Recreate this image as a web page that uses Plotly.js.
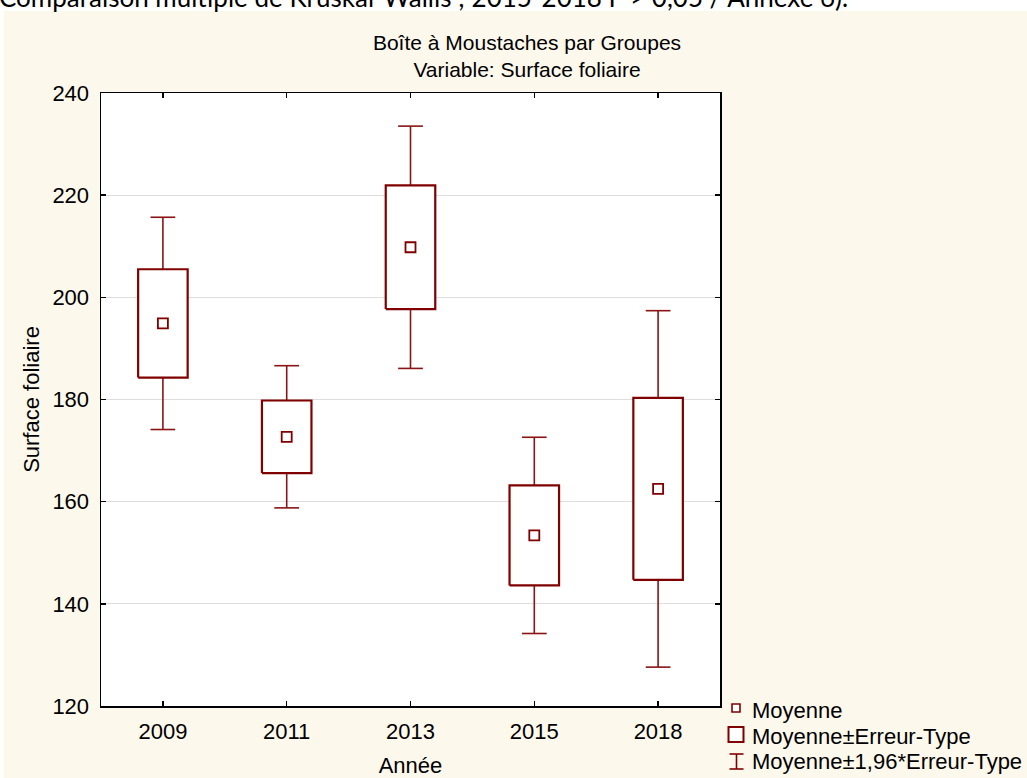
<!DOCTYPE html>
<html>
<head>
<meta charset="utf-8">
<script src="https://cdn.plot.ly/plotly-3.0.1.min.js"></script>
<style>
  html, body { margin: 0; padding: 0; background: #ffffff; overflow: hidden; }
  #chart { width: 1027px; height: 778px; }
</style>
</head>
<body>
<div id="chart"></div>
<script>
// Surface foliaire par année : moyenne, erreur-type
const annees = ['2009', '2011', '2013', '2015', '2018'];
const moyenne = [194.9, 172.7, 209.8, 153.4, 162.5];
const erreurType = [10.6, 7.1, 12.1, 9.8, 17.8];
const facteurIC = 1.96;
const yTicks = [120, 140, 160, 180, 200, 220, 240];
const legendeTextes = ['Moyenne', 'Moyenne±Erreur-Type', 'Moyenne±1,96*Erreur-Type'];

const rouge = '#800000';
const police = 'Liberation Sans, Arial, sans-serif';
const taille = 22;

// plot area in page pixels
const L = 101, R = 720, T = 93, B = 706;
const px = x => (x - L) / (R - L);
const py = y => (B - y) / (B - T);

const pos = annees.map((_, i) => i);
const demiBoite = 0.2, demiCap = 0.1;

const boxX = [], boxY = [], whX = [], whY = [];
pos.forEach(i => {
  const m = moyenne[i], se = erreurType[i];
  const lo = m - se, hi = m + se;
  const wlo = m - facteurIC * se, whi = m + facteurIC * se;
  boxX.push(i - demiBoite, i + demiBoite, i + demiBoite, i - demiBoite, i - demiBoite, null);
  boxY.push(lo, lo, hi, hi, lo, null);
  whX.push(i, i, null, i - demiCap, i + demiCap, null, i, i, null, i - demiCap, i + demiCap, null);
  whY.push(hi, whi, null, whi, whi, null, lo, wlo, null, wlo, wlo, null);
});

const traces = [
  { type: 'scatter', mode: 'lines', x: whX, y: whY, hoverinfo: 'skip',
    line: { color: '#8a1414', width: 1.6 }, showlegend: false },
  { type: 'scatter', mode: 'lines', x: boxX, y: boxY, fill: 'toself', fillcolor: '#ffffff',
    hoverinfo: 'skip', line: { color: rouge, width: 2.2 }, showlegend: false },
  { type: 'scatter', mode: 'markers', x: pos, y: moyenne, showlegend: false,
    marker: { symbol: 'square', size: 10, color: '#ffffff', line: { color: rouge, width: 1.8 } } }
];

const tickFont = { family: police, size: taille, color: '#000000' };

// legend drawn at the lower right
const legY = [709, 735, 760];
const shapes = [
  { type: 'rect', xref: 'paper', yref: 'paper', layer: 'below',
    x0: px(4), x1: px(1040), y0: py(790), y1: py(11),
    fillcolor: '#fdf8ec', line: { width: 0 } },
  { type: 'rect', xref: 'paper', yref: 'paper', layer: 'below',
    x0: 0, x1: 1, y0: 0, y1: 1, fillcolor: '#ffffff', line: { width: 0 } },
  // Moyenne
  { type: 'rect', xref: 'paper', yref: 'paper', x0: px(732), x1: px(740), y0: py(legY[0] + 3), y1: py(legY[0] - 5),
    fillcolor: '#ffffff', line: { color: rouge, width: 1.6 } },
  // Moyenne ± ET
  { type: 'rect', xref: 'paper', yref: 'paper', x0: px(728.5), x1: px(743.5), y0: py(legY[1] + 7), y1: py(legY[1] - 8),
    fillcolor: '#ffffff', line: { color: rouge, width: 2 } },
  // Moyenne ± 1,96 ET
  { type: 'line', xref: 'paper', yref: 'paper', x0: px(736.5), x1: px(736.5), y0: py(legY[2] + 9), y1: py(legY[2] - 6),
    line: { color: rouge, width: 1.6 } },
  { type: 'line', xref: 'paper', yref: 'paper', x0: px(729.5), x1: px(743.5), y0: py(legY[2] - 6), y1: py(legY[2] - 6),
    line: { color: rouge, width: 1.6 } },
  { type: 'line', xref: 'paper', yref: 'paper', x0: px(729.5), x1: px(743.5), y0: py(legY[2] + 9), y1: py(legY[2] + 9),
    line: { color: rouge, width: 1.6 } }
];

const annotations = legendeTextes.map((t, k) => ({
  text: t, xref: 'paper', yref: 'paper', x: px(750), y: py(legY[k] + 1),
  xanchor: 'left', yanchor: 'middle', showarrow: false, font: tickFont
}));

annotations.push({
  text: 'Comparaison multiple de Kruskal-Wallis ; 2015-2018 P > 0,05 / Annexe 6).',
  xref: 'paper', yref: 'paper', x: px(-3), y: py(-3), xanchor: 'left', yanchor: 'middle',
  showarrow: false, font: { family: 'Lato, sans-serif', size: 26, color: '#000000' }
});

const layout = {
  width: 1027, height: 778,
  margin: { l: L, r: 1027 - R, t: T, b: 778 - B, pad: 0 },
  paper_bgcolor: '#ffffff',
  plot_bgcolor: 'rgba(0,0,0,0)',
  showlegend: false,
  title: {
    text: 'Boîte à Moustaches par Groupes<br>Variable: Surface foliaire',
    xref: 'container', yref: 'container', x: 527 / 1027, y: 1 - 50 / 778,
    xanchor: 'center', yanchor: 'middle',
    font: { family: police, size: 21, color: '#000000' }
  },
  xaxis: {
    range: [-0.5, 4.5], tickvals: pos, ticktext: annees, showgrid: false, zeroline: false,
    showline: true, linecolor: '#000000', linewidth: 1.5, mirror: 'ticks',
    ticks: 'inside', ticklen: 5, tickwidth: 1.5, tickcolor: '#000000',
    tickfont: tickFont, ticklabelstandoff: 5,
    title: { text: 'Année', font: tickFont, standoff: 15 }
  },
  yaxis: {
    range: [120, 240], tickvals: yTicks, showgrid: true, gridcolor: '#dedede', gridwidth: 1,
    zeroline: false, showline: true, linecolor: '#000000', linewidth: 1.5, mirror: 'ticks',
    ticks: 'inside', ticklen: 5, tickwidth: 1.5, tickcolor: '#000000',
    tickfont: tickFont, ticklabelstandoff: 6,
    title: { text: 'Surface foliaire', font: tickFont, standoff: 6 }
  },
  shapes: shapes,
  annotations: annotations
};

Plotly.newPlot('chart', traces, layout, { staticPlot: true, displayModeBar: false });
</script>
</body>
</html>
